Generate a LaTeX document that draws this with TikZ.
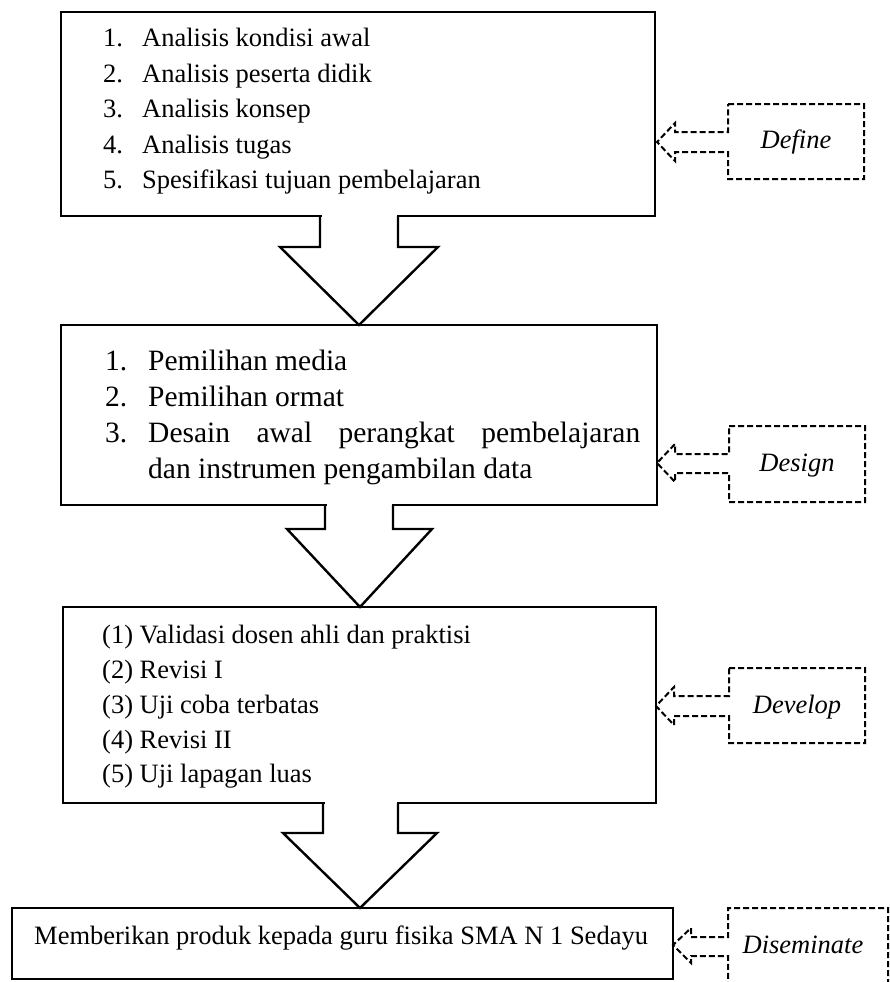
\documentclass[tikz,border=0pt]{standalone}
\usepackage{fontspec}
\setmainfont{Liberation Serif}
\begin{document}
\begin{tikzpicture}[x=1pt,y=-1pt,
  box/.style={draw,line width=2.4pt,fill=white},
  blk/.style={line width=2.4pt,line join=miter},
  dsh/.style={line width=2pt,dash pattern=on 6pt off 3pt},
  txt/.style={anchor=base west,inner sep=0pt,font=\fontsize{26.5}{30}\selectfont},
  txtb/.style={anchor=base west,inner sep=0pt,font=\fontsize{29.5}{34}\selectfont},
  lab/.style={anchor=base,inner sep=0pt,font=\fontsize{26.5}{30}\selectfont\itshape}]
\useasboundingbox (0,0) rectangle (890,982);
% boxes
\draw[box] (61,12) rectangle (655,216);
\draw[box] (61,325) rectangle (657,505);
\draw[box] (63,607) rectangle (656,803);
\draw[box] (12,908) rectangle (673,979);
% block arrows
\fill[white] (321.5,214) rectangle (396.5,218);
\draw[blk] (320,216) -- (320,247) -- (280,247) -- (359,325) -- (438,247) -- (398,247) -- (398,216);
\fill[white] (326.5,503) rectangle (391.5,507);
\draw[blk] (325,505) -- (325,529) -- (287,529) -- (360,607) -- (432,529) -- (393,529) -- (393,505);
\fill[white] (324.5,801) rectangle (396.5,805);
\draw[blk] (323,803) -- (323,833) -- (283,833) -- (360,908) -- (437,833) -- (398,833) -- (398,803);
% box 1 text
\node[txt] (n11) at (103,47) {1.};  \node[txt] (t11) at (142,47) {Analisis kondisi awal};
\node[txt] (n12) at (103,82) {2.};  \node[txt] (t12) at (142,82) {Analisis peserta didik};
\node[txt] (n13) at (103,117) {3.}; \node[txt] (t13) at (142,117) {Analisis konsep};
\node[txt] (n14) at (103,153) {4.}; \node[txt] (t14) at (142,153) {Analisis tugas};
\node[txt] (n15) at (103,188) {5.}; \node[txt] (t15) at (142,188) {Spesifikasi tujuan pembelajaran};
% box 2 text
\node[txtb] (n21) at (105,370) {1.}; \node[txtb] (t21) at (148,370) {Pemilihan media};
\node[txtb] (n22) at (105,406) {2.}; \node[txtb] (t22) at (148,406) {Pemilihan ormat};
\node[txtb] (n23) at (105,442) {3.}; \node[txtb] (t23) at (148,442) {\makebox[492pt][s]{Desain awal perangkat pembelajaran}};
\node[txtb] (t24) at (148,478) {dan instrumen pengambilan data};
% box 3 text
\node[txt] (t31) at (102,643) {(1) Validasi dosen ahli dan praktisi};
\node[txt] (t32) at (102,678) {(2) Revisi I};
\node[txt] (t33) at (102,713) {(3) Uji coba terbatas};
\node[txt] (t34) at (102,748) {(4) Revisi II};
\node[txt] (t35) at (102,782) {(5) Uji lapagan luas};
% box 4 text
\node[txt] (t41) at (34,944) {Memberikan produk kepada guru fisika SMA N 1 Sedayu};
% dashed callouts
\draw[dsh] (728,104) -- (864,104) -- (864,179) -- (728,179) -- (728,152) -- (675,152) -- (675,161) -- (657,142) -- (675,123) -- (675,132) -- (728,132) -- cycle;
\node[lab] (l1) at (796,148) {Define};
\draw[dsh] (729,426) -- (865,426) -- (865,502) -- (729,502) -- (729,473) -- (675,473) -- (675,482) -- (657,463) -- (675,444) -- (675,454) -- (729,454) -- cycle;
\node[lab] (l2) at (797,471) {Design};
\draw[dsh] (729,668) -- (865,668) -- (865,743) -- (729,743) -- (729,716) -- (674,716) -- (674,725) -- (656,706) -- (674,687) -- (674,696) -- (729,696) -- cycle;
\node[lab] (l3) at (797,713) {Develop};
\draw[dsh] (888,985) -- (888,908) -- (728,908) -- (728,937) -- (691,937) -- (691,928) -- (673,945) -- (691,963) -- (691,956) -- (728,956) -- (728,985);
\node[lab] (l4) at (803,953) {Diseminate};
\end{tikzpicture}
\end{document}
